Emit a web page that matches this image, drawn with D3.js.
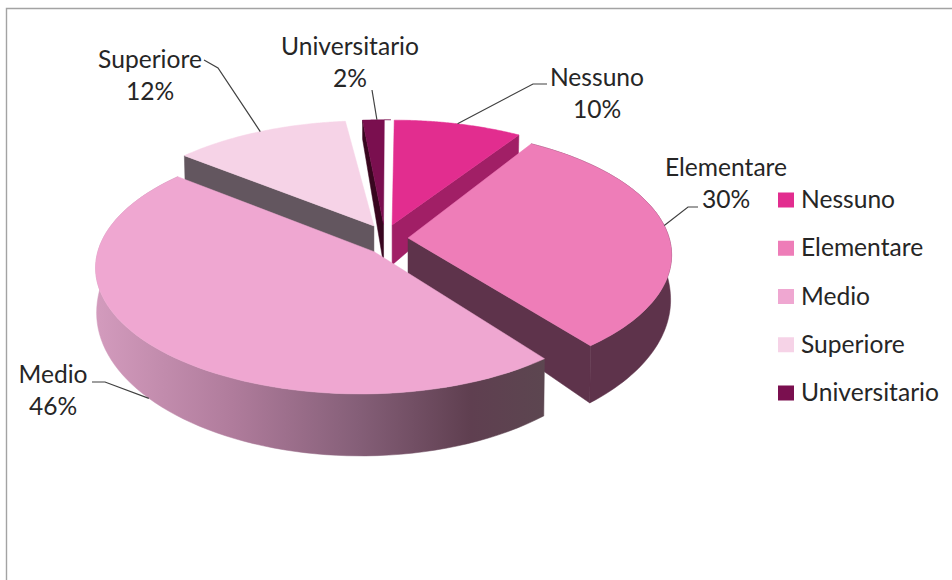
<!DOCTYPE html>
<html><head><meta charset="utf-8">
<script src="https://cdnjs.cloudflare.com/ajax/libs/d3/7.8.5/d3.min.js"></script>
<style>html,body{margin:0;padding:0;background:#fff}svg{display:block}
text{font-family:Lato,"Open Sans",sans-serif;font-size:24.6px;fill:#262626}</style>
</head><body><svg id="c" width="952" height="580"></svg>
<script>
const categories = ["Nessuno","Elementare","Medio","Superiore","Universitario"];
const values = [10,30,46,12,2];
const topColors = ["#E22D8F","#EE7DB8","#EFA7D1","#F6D3E7","#7A0F4F"];
const wallColors = ["#A11F66","#5E334B","#5F4853","#63565F","#38061F"];
const svg = d3.select("#c");
const defs = svg.append("defs");
const grad = defs.append("linearGradient").attr("id","medioWall").attr("gradientUnits","userSpaceOnUse")
  .attr("x1",96).attr("x2",547).attr("y1",0).attr("y2",0);
[[0,"#D39BBD"],[0.3,"#B07C9C"],[0.58,"#855F78"],[0.83,"#5F3F50"],[1,"#5C4650"]]
  .forEach(([o,c])=>grad.append("stop").attr("offset",o).attr("stop-color",c));

// frame
svg.append("path").attr("d","M6.5,580V8.5H952").attr("fill","none").attr("stroke","#A3A3A3").attr("stroke-width",1.4);

// projection of the exploded 3D pie: each slice is cut from a shifted ellipse
const ell = {x:380,y:255,rx:265,ry:126,rxB:264,e:26.6,qBack:0.35,qFront:0.71,backShift:6};
const deg = Math.PI/180;
const warp = t => {
  const s=Math.sin(t), c=Math.cos(t);
  if (Math.abs(s)<1e-9) return t;
  return s>0 ? t-13.5*deg*s : t-8*deg*s+1.5*deg*c*c;
};
const depth = c => c<0 ? 45-17*c : 45-26*c;
const pie = d3.pie().sort(null).value(d=>d)(values);
const line = d3.line();
const slices = pie.map((p,i)=>{
  const mid=(p.startAngle+p.endAngle)/2, s=Math.sin(mid), c=Math.cos(mid), back=c>1e-6, front=c<-1e-6;
  const cx=ell.x+ell.e*s+(back&&s>-0.2?ell.backShift:0), cy=ell.y-ell.e*c*(back?ell.qBack:ell.qFront);
  const apex=[385+(front?15:23)*s, 238-(front?20:13.8)*c];
  const abs=(t,bottom)=>{
    const f=warp(t), cf=Math.cos(f), sf=Math.sin(f);
    return bottom ? [cx+ell.rxB*sf, cy-ell.ry*cf+depth(cf)] : [cx+ell.rx*sf, cy-ell.ry*cf];
  };
  const ts=d3.range(0,81).map(k=>p.startAngle+(p.endAngle-p.startAngle)*k/80);
  return {i,p,back,mid,apex,apexB:[apex[0],apex[1]+40],topArc:ts.map(t=>abs(t,false)),botArc:ts.map(t=>abs(t,true)),abs};
});
const drawOrder=[4,3,0,1,2];
const g=svg.append("g");
drawOrder.forEach(i=>{
  const s=slices[i], wall=wallColors[i];
  const shape=(pts,fill)=>g.append("path").attr("d",line(pts)+"Z").attr("fill",fill).attr("stroke",fill).attr("stroke-width",0.5);
  // a wall shows only where it faces the viewer
  if (Math.sin(s.p.startAngle)<-1e-6) shape([s.apex,s.topArc[0],s.botArc[0],s.apexB],wall);
  if (Math.sin(s.p.endAngle)>1e-6) shape([s.apex,s.topArc[80],s.botArc[80],s.apexB],wall);
  if (!s.back) shape(s.topArc.concat(s.botArc.slice().reverse()),i===2?"url(#medioWall)":wall);
  shape([s.apex].concat(s.topArc),topColors[i]);
});

// data labels
const labelAt=[[597,78],[726,168],[53,375],[150,60],[350,47]];
const elbows=[[[547,84],[533,84]],[[698,207],[688,207]],[[92,382],[105,382]],[[204,60],[218,68]],[[372,90],[372,90]]];
categories.forEach((c,i)=>{
  const s=slices[i], end=s.abs(s.mid,i===2);
  g.append("path").attr("d",line([elbows[i][0],elbows[i][1],end])).attr("fill","none").attr("stroke","#404040").attr("stroke-width",1.2);
  const t=svg.append("text").attr("text-anchor","middle");
  t.append("tspan").attr("x",labelAt[i][0]).attr("y",labelAt[i][1]+8).text(c);
  t.append("tspan").attr("x",labelAt[i][0]).attr("y",labelAt[i][1]+40).text(values[i]+"%");
});

// legend
const rowY=d3.scalePoint().domain(categories).range([200,393]);
const lg=svg.append("g");
categories.forEach((c,i)=>{
  lg.append("rect").attr("x",778).attr("y",rowY(c)-7.5).attr("width",16).attr("height",15).attr("fill",topColors[i]);
  lg.append("text").attr("x",801).attr("y",rowY(c)+8).text(c);
});
</script></body></html>
